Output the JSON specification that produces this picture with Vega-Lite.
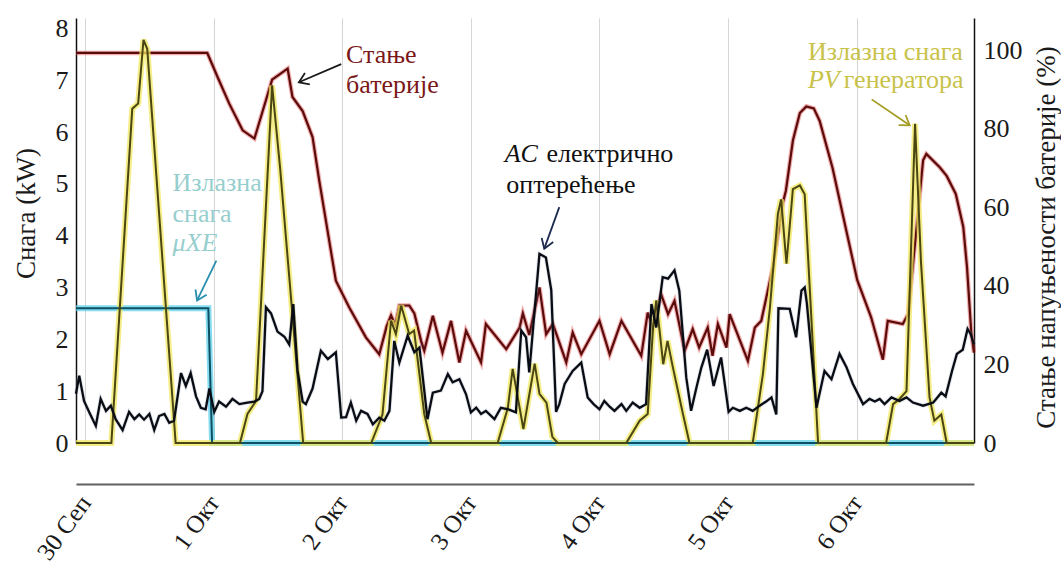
{
"$schema": "https://vega.github.io/schema/vega-lite/v6.json",
"width": 898, "height": 425,
"autosize": {"type": "none"},
"padding": {"left": 76, "top": 18, "right": 87, "bottom": 123},
"background": "white",
"config": {"view": {"stroke": null}, "font": "Liberation Serif", "axis": {"labelFont": "Liberation Serif", "titleFont": "Liberation Serif"}, "text": {"font": "Liberation Serif"}},
"datasets": {
"xe": [{"h":-1.7,"v":2.6},{"h":23.0,"v":2.6},{"h":23.7,"v":0},{"h":165.9,"v":0}],
"pv": [{"h":-1.7,"v":0},{"h":4.9,"v":0},{"h":8.8,"v":6.45},{"h":9.9,"v":6.55},{"h":10.9,"v":7.78},{"h":11.6,"v":7.6},{"h":16.9,"v":0},{"h":28.9,"v":0},{"h":30.3,"v":0.56},{"h":31.9,"v":0.81},{"h":34.9,"v":6.9},{"h":36.4,"v":5.3},{"h":40.7,"v":0},{"h":53.4,"v":0},{"h":55.5,"v":0.55},{"h":57.1,"v":2.36},{"h":58.0,"v":2.1},{"h":59.0,"v":2.65},{"h":60.5,"v":2.1},{"h":61.4,"v":2.17},{"h":63.3,"v":0.56},{"h":64.6,"v":0},{"h":77.0,"v":0},{"h":78.9,"v":0.68},{"h":79.8,"v":1.43},{"h":81.8,"v":0.27},{"h":83.9,"v":1.53},{"h":84.8,"v":0.95},{"h":86.1,"v":0.78},{"h":87.2,"v":0.12},{"h":88.2,"v":0},{"h":101.0,"v":0},{"h":103.5,"v":0.43},{"h":105.0,"v":0.56},{"h":106.0,"v":2.23},{"h":106.6,"v":2.75},{"h":107.9,"v":1.52},{"h":108.7,"v":1.97},{"h":109.7,"v":1.46},{"h":111.6,"v":0.55},{"h":112.8,"v":0},{"h":124.6,"v":0},{"h":126.5,"v":1.33},{"h":127.8,"v":2.6},{"h":129.3,"v":4.42},{"h":129.9,"v":4.7},{"h":130.9,"v":3.46},{"h":132.1,"v":4.9},{"h":133.4,"v":4.97},{"h":134.3,"v":4.8},{"h":136.8,"v":0},{"h":149.5,"v":0},{"h":150.8,"v":0.75},{"h":152.0,"v":0.85},{"h":153.3,"v":1.0},{"h":154.9,"v":6.16},{"h":156.0,"v":3.5},{"h":157.6,"v":0.88},{"h":158.5,"v":0.43},{"h":159.8,"v":0.55},{"h":160.8,"v":0},{"h":165.9,"v":0}],
"ac": [{"h":-1.7,"v":0.95},{"h":-1.1,"v":1.3},{"h":-0.2,"v":0.81},{"h":0.75,"v":0.6},{"h":2.0,"v":0.33},{"h":2.9,"v":0.85},{"h":3.9,"v":0.62},{"h":4.8,"v":0.72},{"h":5.7,"v":0.46},{"h":7.0,"v":0.25},{"h":8.2,"v":0.6},{"h":9.2,"v":0.46},{"h":10.1,"v":0.55},{"h":11.0,"v":0.45},{"h":12.0,"v":0.56},{"h":12.9,"v":0.25},{"h":13.8,"v":0.52},{"h":14.8,"v":0.56},{"h":15.7,"v":0.39},{"h":16.6,"v":0.43},{"h":17.9,"v":1.35},{"h":18.8,"v":1.1},{"h":19.7,"v":1.35},{"h":20.7,"v":0.9},{"h":21.6,"v":0.68},{"h":22.5,"v":0.65},{"h":23.2,"v":1.05},{"h":24.1,"v":0.6},{"h":25.0,"v":0.8},{"h":26.3,"v":0.7},{"h":27.5,"v":0.85},{"h":28.8,"v":0.75},{"h":30.3,"v":0.78},{"h":31.6,"v":0.8},{"h":32.5,"v":0.85},{"h":33.1,"v":1.0},{"h":33.75,"v":2.62},{"h":34.7,"v":2.5},{"h":35.9,"v":2.15},{"h":37.2,"v":2.05},{"h":38.1,"v":1.9},{"h":38.85,"v":2.68},{"h":39.65,"v":1.4},{"h":40.6,"v":0.8},{"h":41.2,"v":0.75},{"h":42.45,"v":1.05},{"h":44.0,"v":1.78},{"h":45.3,"v":1.62},{"h":46.8,"v":1.75},{"h":47.8,"v":0.49},{"h":48.7,"v":0.5},{"h":49.6,"v":0.78},{"h":50.6,"v":0.43},{"h":51.5,"v":0.62},{"h":52.7,"v":0.56},{"h":53.7,"v":0.36},{"h":54.9,"v":0.49},{"h":55.85,"v":0.43},{"h":56.8,"v":0.62},{"h":57.7,"v":1.97},{"h":58.65,"v":1.55},{"h":60.2,"v":2.07},{"h":61.45,"v":1.75},{"h":62.4,"v":1.84},{"h":63.9,"v":0.46},{"h":64.9,"v":0.97},{"h":66.4,"v":1.01},{"h":67.7,"v":1.33},{"h":68.6,"v":1.17},{"h":69.85,"v":1.23},{"h":71.1,"v":0.94},{"h":72.0,"v":0.59},{"h":73.0,"v":0.68},{"h":73.9,"v":0.56},{"h":74.8,"v":0.62},{"h":76.4,"v":0.46},{"h":77.6,"v":0.68},{"h":79.0,"v":0.65},{"h":80.4,"v":0.59},{"h":81.4,"v":2.17},{"h":82.3,"v":2.04},{"h":82.9,"v":1.36},{"h":84.8,"v":3.65},{"h":86.0,"v":3.58},{"h":87.0,"v":2.95},{"h":87.9,"v":0.6},{"h":88.5,"v":0.75},{"h":89.5,"v":1.14},{"h":91.0,"v":1.39},{"h":92.6,"v":1.55},{"h":93.8,"v":0.88},{"h":94.9,"v":0.75},{"h":96.0,"v":0.65},{"h":96.9,"v":0.81},{"h":97.9,"v":0.7},{"h":98.8,"v":0.62},{"h":100.1,"v":0.75},{"h":101.0,"v":0.62},{"h":102.2,"v":0.78},{"h":103.5,"v":0.68},{"h":104.7,"v":0.75},{"h":105.7,"v":2.68},{"h":106.6,"v":2.23},{"h":107.8,"v":3.2},{"h":108.8,"v":3.17},{"h":110.0,"v":3.33},{"h":110.9,"v":2.94},{"h":112.2,"v":1.26},{"h":113.1,"v":0.62},{"h":114.1,"v":1.07},{"h":115.0,"v":1.45},{"h":116.1,"v":1.8},{"h":117.3,"v":1.1},{"h":118.7,"v":1.65},{"h":120.1,"v":0.6},{"h":120.9,"v":0.68},{"h":122.2,"v":0.62},{"h":123.4,"v":0.68},{"h":124.6,"v":0.62},{"h":125.9,"v":0.72},{"h":127.1,"v":0.8},{"h":128.1,"v":0.88},{"h":129.0,"v":0.55},{"h":129.4,"v":2.6},{"h":131.5,"v":2.59},{"h":132.7,"v":2.04},{"h":133.7,"v":2.94},{"h":134.3,"v":3.0},{"h":134.7,"v":2.7},{"h":136.5,"v":0.68},{"h":138.0,"v":1.39},{"h":139.3,"v":1.23},{"h":140.8,"v":1.72},{"h":142.1,"v":1.46},{"h":143.3,"v":1.14},{"h":145.2,"v":0.75},{"h":146.4,"v":0.85},{"h":147.4,"v":0.8},{"h":148.3,"v":0.85},{"h":149.2,"v":0.75},{"h":150.5,"v":0.88},{"h":152.0,"v":0.81},{"h":153.3,"v":0.88},{"h":154.5,"v":0.78},{"h":156.4,"v":0.72},{"h":158.3,"v":0.78},{"h":159.8,"v":0.97},{"h":160.6,"v":0.9},{"h":161.8,"v":1.39},{"h":162.7,"v":1.72},{"h":163.8,"v":1.8},{"h":164.7,"v":2.2},{"h":165.3,"v":2.1},{"h":165.9,"v":1.9}],
"bat": [{"h":-1.7,"v":99.3},{"h":22.8,"v":99.3},{"h":25.0,"v":92.3},{"h":26.9,"v":86.4},{"h":29.4,"v":79.6},{"h":31.6,"v":77.5},{"h":34.9,"v":92.5},{"h":37.8,"v":95.3},{"h":38.7,"v":88.1},{"h":40.6,"v":84.5},{"h":42.45,"v":77.9},{"h":43.7,"v":66.8},{"h":46.8,"v":41.3},{"h":49.3,"v":34.5},{"h":52.4,"v":26.9},{"h":54.9,"v":22.6},{"h":56.3,"v":29.8},{"h":57.1,"v":32.5},{"h":57.9,"v":30},{"h":58.65,"v":35},{"h":60.5,"v":35},{"h":61.45,"v":33},{"h":62.7,"v":26},{"h":63.3,"v":23.5},{"h":64.9,"v":32.4},{"h":66.7,"v":23},{"h":68.3,"v":31.1},{"h":69.85,"v":20.5},{"h":71.1,"v":28.6},{"h":73.9,"v":20.5},{"h":74.8,"v":30.3},{"h":78.6,"v":23.9},{"h":81.1,"v":29.4},{"h":81.7,"v":33},{"h":82.9,"v":27.5},{"h":84.8,"v":39.6},{"h":86.05,"v":27.7},{"h":87.3,"v":30.3},{"h":89.8,"v":20.5},{"h":91.0,"v":28.1},{"h":92.6,"v":22.6},{"h":96.0,"v":31.1},{"h":97.9,"v":22.6},{"h":100.1,"v":31.1},{"h":103.8,"v":22.2},{"h":105.0,"v":33.2},{"h":106.0,"v":29.4},{"h":107.5,"v":37.9},{"h":108.8,"v":32.8},{"h":110.0,"v":36.2},{"h":111.9,"v":23.5},{"h":113.4,"v":29},{"h":114.6,"v":24.3},{"h":116.2,"v":29.4},{"h":117.1,"v":22.2},{"h":118.1,"v":30.3},{"h":119.7,"v":24.3},{"h":120.3,"v":32.8},{"h":123.7,"v":20.9},{"h":125.0,"v":29.4},{"h":126.2,"v":31.1},{"h":128.4,"v":45},{"h":130.2,"v":61},{"h":130.8,"v":64.3},{"h":132.1,"v":77},{"h":133.4,"v":84},{"h":134.6,"v":85.7},{"h":136.0,"v":85.2},{"h":137.1,"v":82},{"h":139.5,"v":70},{"h":142.0,"v":54.5},{"h":144.1,"v":41.5},{"h":146.7,"v":32},{"h":148.9,"v":21.2},{"h":149.8,"v":31.1},{"h":152.6,"v":30.3},{"h":153.6,"v":32.8},{"h":155.2,"v":55},{"h":156.4,"v":72},{"h":157.0,"v":73.6},{"h":159.5,"v":70.2},{"h":160.8,"v":68},{"h":162.5,"v":63.4},{"h":163.9,"v":55},{"h":164.6,"v":44.7},{"h":165.4,"v":28},{"h":165.9,"v":23}],
"txt": [{"s":"bat","t":"Стање","h":48.7,"v":7.33},{"s":"bat","t":"батерије","h":48.7,"v":6.75},{"s":"ac","t":"електрично","h":86.1,"v":5.43},{"s":"ac","t":"оптерећење","h":78.6,"v":4.82},{"s":"xe","t":"Излазна","h":16.3,"v":4.86},{"s":"xe","t":"снага","h":16.3,"v":4.27},{"s":"pv","t":"Излазна снага","h":134.9,"v":7.39},{"s":"pv","t":"генератора","h":141.6,"v":6.85}],
"txtIt": [{"s":"ac","t":"AC","h":78.3,"v":5.43},{"s":"xe","t":"μXE","h":16.3,"v":3.71},{"s":"pv","t":"PV","h":134.9,"v":6.85}],
"arr": [{"s":"bat","h":47.8,"v":7.31,"h2":39.9,"v2":6.96},{"s":"ac","h":88.5,"v":4.55,"h2":85.7,"v2":3.75},{"s":"xe","h":24.5,"v":3.52,"h2":20.9,"v2":2.75},{"s":"pv","h":146.8,"v":6.63,"h2":153.9,"v2":6.13}],
"heads": [{"s":"bat","h":39.9,"v":6.96},{"s":"ac","h":85.7,"v":3.75},{"s":"xe","h":20.9,"v":2.75},{"s":"pv","h":153.9,"v":6.13}]
},
"encoding": {"x": {"field": "h", "type": "quantitative", "scale": {"domain": [-1.7, 165.9], "nice": false, "zero": false},
  "axis": {"values": [0,24,48,72,96,120,144], "labelExpr": "['30 Сеп','1 Окт','2 Окт','3 Окт','4 Окт','5 Окт','6 Окт'][round(datum.value/24)]", "title": null, "offset": 41, "domainColor": "#606060", "domainWidth": 2, "ticks": false, "grid": true, "gridColor": "#d6d6d6", "gridWidth": 1, "labelAngle": -54, "labelAlign": "right", "labelBaseline": "middle", "labelFontSize": 25, "labelColor": "#1a1a1a", "labelPadding": 14, "labelBound": false, "labelOverlap": false}}},
"layer": [
 {
  "data": {"name": "bat"},
  "encoding": {"y": {"field": "v", "type": "quantitative", "scale": {"domain": [0, 108.2], "nice": false, "zero": true},
    "axis": {"orient": "right", "values": [0,20,40,60,80,100], "title": "Стање напуњености батерије (%)", "domainColor": "#111", "domainWidth": 1.5, "ticks": false, "grid": false, "labelFontSize": 26, "labelColor": "#1a1a1a", "labelPadding": 9, "titleFontSize": 27, "titleFontWeight": "normal", "titleColor": "#1a1a1a", "titleAngle": -90, "titleX": 72, "titleY": 219, "titleAlign": "center", "titleBaseline": "middle"}}},
  "layer": [
   {"mark": {"type": "line", "color": "#e04848", "strokeWidth": 4.5, "opacity": 0.45}},
   {"mark": {"type": "line", "color": "#5a0b0b", "strokeWidth": 2.2}}
  ]
 },
 {
  "encoding": {"y": {"field": "v", "type": "quantitative", "scale": {"domain": [0, 8.2], "nice": false, "zero": true},
    "axis": {"orient": "left", "values": [0,1,2,3,4,5,6,7,8], "title": "Снага (kW)", "domainColor": "#111", "domainWidth": 1.5, "ticks": false, "grid": false, "labelFontSize": 26, "labelColor": "#1a1a1a", "labelPadding": 8, "titleFontSize": 27, "titleFontWeight": "normal", "titleColor": "#1a1a1a", "titleAngle": -90, "titleX": -50, "titleY": 195, "titleAlign": "center", "titleBaseline": "middle"}}},
  "layer": [
   {"data": {"name": "xe"}, "mark": {"type": "line", "color": "#5cd0ec", "strokeWidth": 6, "opacity": 0.75}},
   {"data": {"name": "pv"}, "mark": {"type": "line", "color": "#f2e860", "strokeWidth": 6, "opacity": 0.75}},
   {"data": {"name": "ac"}, "mark": {"type": "line", "color": "#8090a8", "strokeWidth": 4, "opacity": 0.25}},
   {"data": {"name": "xe"}, "mark": {"type": "line", "color": "#0d4f63", "strokeWidth": 2}},
   {"data": {"name": "pv"}, "mark": {"type": "line", "color": "#4a4612", "strokeWidth": 2}},
   {"data": {"name": "ac"}, "mark": {"type": "line", "color": "#0a0c14", "strokeWidth": 2.3}},
   {"data": {"name": "txt"}, "mark": {"type": "text", "align": "left", "baseline": "alphabetic", "fontSize": 26},
    "encoding": {"text": {"field": "t"}, "fill": {"field": "s", "type": "nominal", "scale": {"domain": ["bat","ac","xe","pv"], "range": ["#7a1818","#111111","#96cece","#c8c24a"]}, "legend": null}}},
   {"data": {"name": "txtIt"}, "mark": {"type": "text", "align": "left", "baseline": "alphabetic", "fontSize": 26, "fontStyle": "italic"},
    "encoding": {"text": {"field": "t"}, "fill": {"field": "s", "type": "nominal", "scale": {"domain": ["bat","ac","xe","pv"], "range": ["#7a1818","#111111","#96cece","#c8c24a"]}, "legend": null}}},
   {"data": {"name": "arr"}, "mark": {"type": "rule", "strokeWidth": 1.8},
    "encoding": {"x2": {"field": "h2"}, "y2": {"field": "v2"}, "stroke": {"field": "s", "type": "nominal", "scale": {"domain": ["bat","ac","xe","pv"], "range": ["#1a1a1a","#1c2a4e","#2a8fae","#a39c22"]}, "legend": null}}},
   {"data": {"name": "heads"}, "transform": [{"filter": "datum.s === 'bat'"}], "mark": {"type": "point", "shape": "M-0.6,0.9L0,0L0.6,0.9", "filled": false, "size": 420, "strokeWidth": 1.8, "angle": 246.8, "opacity": 1},
    "encoding": {"stroke": {"field": "s", "type": "nominal", "scale": {"domain": ["bat","ac","xe","pv"], "range": ["#1a1a1a","#1c2a4e","#2a8fae","#a39c22"]}, "legend": null}}},
   {"data": {"name": "heads"}, "transform": [{"filter": "datum.s === 'ac'"}], "mark": {"type": "point", "shape": "M-0.6,0.9L0,0L0.6,0.9", "filled": false, "size": 420, "strokeWidth": 1.8, "angle": 200, "opacity": 1},
    "encoding": {"stroke": {"field": "s", "type": "nominal", "scale": {"domain": ["bat","ac","xe","pv"], "range": ["#1a1a1a","#1c2a4e","#2a8fae","#a39c22"]}, "legend": null}}},
   {"data": {"name": "heads"}, "transform": [{"filter": "datum.s === 'xe'"}], "mark": {"type": "point", "shape": "M-0.6,0.9L0,0L0.6,0.9", "filled": false, "size": 420, "strokeWidth": 1.8, "angle": 205.4, "opacity": 1},
    "encoding": {"stroke": {"field": "s", "type": "nominal", "scale": {"domain": ["bat","ac","xe","pv"], "range": ["#1a1a1a","#1c2a4e","#2a8fae","#a39c22"]}, "legend": null}}},
   {"data": {"name": "heads"}, "transform": [{"filter": "datum.s === 'pv'"}], "mark": {"type": "point", "shape": "M-0.6,0.9L0,0L0.6,0.9", "filled": false, "size": 420, "strokeWidth": 1.8, "angle": 124.4, "opacity": 1},
    "encoding": {"stroke": {"field": "s", "type": "nominal", "scale": {"domain": ["bat","ac","xe","pv"], "range": ["#1a1a1a","#1c2a4e","#2a8fae","#a39c22"]}, "legend": null}}}
  ]
 }
],
"resolve": {"scale": {"y": "independent"}}
}
